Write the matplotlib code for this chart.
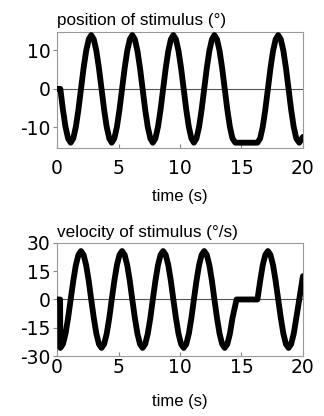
import matplotlib
matplotlib.use("Agg")
import matplotlib.pyplot as plt

plt.rcParams['font.family'] = ['Liberation Sans', 'DejaVu Sans']
plt.rcParams['axes.unicode_minus'] = False

# position of stimulus (deg)
pos_t = [0.00, 0.27,
         0.48, 0.69, 0.90, 1.11, 1.32, 1.53, 1.74, 1.95, 2.16, 2.37, 2.58, 2.78, 2.99, 3.20, 3.41, 3.62,
         3.83, 4.04, 4.25, 4.45, 4.66, 4.87, 5.08, 5.29, 5.50, 5.71, 5.92, 6.12, 6.33, 6.54, 6.75, 6.96,
         7.17, 7.38, 7.59, 7.79, 8.00, 8.21, 8.42, 8.63, 8.84, 9.05, 9.26, 9.46, 9.67, 9.88, 10.09, 10.30,
         10.51, 10.72, 10.93, 11.13, 11.34, 11.55, 11.76, 11.97, 12.18, 12.39, 12.60, 12.80, 13.01, 13.22, 13.43, 13.64,
         13.85, 14.06, 14.27, 14.50, 16.30,
         16.52, 16.73, 16.94, 17.15, 17.36, 17.57, 17.78, 17.99, 18.20, 18.41, 18.62, 18.83,
         19.04, 19.25, 19.46, 19.70, 20.00]
pos_deg = [0, 0,
           -5.4, -9.9, -12.9, -14, -12.9, -9.9, -5.4, 0, 5.4, 9.9, 12.9, 14, 12.9, 9.9, 5.4, 0,
           -5.4, -9.9, -12.9, -14, -12.9, -9.9, -5.4, 0, 5.4, 9.9, 12.9, 14, 12.9, 9.9, 5.4, 0,
           -5.4, -9.9, -12.9, -14, -12.9, -9.9, -5.4, 0, 5.4, 9.9, 12.9, 14, 12.9, 9.9, 5.4, 0,
           -5.4, -9.9, -12.9, -14, -12.9, -9.9, -5.4, 0, 5.4, 9.9, 12.9, 14, 12.9, 9.9, 5.4, 0,
           -5.4, -9.9, -12.9, -14, -14,
           -12.9, -9.9, -5.4, 0, 5.4, 9.9, 12.9, 14, 12.9, 9.9, 5.4, 0,
           -5.4, -9.9, -12.9, -14, -12.5]

# velocity of stimulus (deg/s)
vel_t = [0.00, 0.25, 0.27,
         0.48, 0.69, 0.90, 1.11, 1.32, 1.53, 1.74, 1.95, 2.16, 2.37, 2.58, 2.78, 2.99, 3.20, 3.41, 3.62,
         3.83, 4.04, 4.25, 4.45, 4.66, 4.87, 5.08, 5.29, 5.50, 5.71, 5.92, 6.12, 6.33, 6.54, 6.75, 6.96,
         7.17, 7.38, 7.59, 7.79, 8.00, 8.21, 8.42, 8.63, 8.84, 9.05, 9.26, 9.46, 9.67, 9.88, 10.09, 10.30,
         10.51, 10.72, 10.93, 11.13, 11.34, 11.55, 11.76, 11.97, 12.18, 12.39, 12.60, 12.80, 13.01, 13.22, 13.43, 13.64,
         13.85, 14.06, 14.27, 14.60, 16.30,
         16.52, 16.73, 16.94, 17.15, 17.36, 17.57, 17.78, 17.99, 18.20, 18.41, 18.62, 18.83,
         19.04, 19.25, 19.46, 19.70, 20.00]
vel_dps = [0, 0, -25.7,
           -23.7, -18.2, -9.8, 0, 9.8, 18.2, 23.7, 25.7, 23.7, 18.2, 9.8, 0, -9.8, -18.2, -23.7, -25.7,
           -23.7, -18.2, -9.8, 0, 9.8, 18.2, 23.7, 25.7, 23.7, 18.2, 9.8, 0, -9.8, -18.2, -23.7, -25.7,
           -23.7, -18.2, -9.8, 0, 9.8, 18.2, 23.7, 25.7, 23.7, 18.2, 9.8, 0, -9.8, -18.2, -23.7, -25.7,
           -23.7, -18.2, -9.8, 0, 9.8, 18.2, 23.7, 25.7, 23.7, 18.2, 9.8, 0, -9.8, -18.2, -23.7, -25.7,
           -23.7, -18.2, -9.8, 0, 0,
           9.8, 18.2, 23.7, 25.7, 23.7, 18.2, 9.8, 0, -9.8, -18.2, -23.7, -25.7,
           -23.7, -18.2, -9.8, 0, 12.4]

x_ticks = [0, 5, 10, 15, 20]
pos_ticks = [-10, 0, 10]
vel_ticks = [-30, -15, 0, 15, 30]


def draw_panel(ax, t, y, title, ylim, yticks, title_y, xpad, labelpad):
    ax.axhline(0, color='#555555', lw=0.8, zorder=1)
    ax.plot(t, y, color='black', lw=4.2, solid_joinstyle='round',
            solid_capstyle='round', zorder=3)
    ax.set_xlim(0, 20)
    ax.set_ylim(*ylim)
    ax.set_xticks(x_ticks)
    ax.set_yticks(yticks)
    for s in ax.spines.values():
        s.set_color('#999999')
        s.set_linewidth(0.8)
    ax.tick_params(axis='x', direction='in', length=3, color='#888888',
                   labelsize=13.5, pad=xpad)
    ax.tick_params(axis='y', direction='out', length=3, color='#888888',
                   labelsize=13.5, pad=1.5)
    # tick numbers in the reference are drawn wide, DejaVu is closer
    for lab in ax.get_xticklabels() + ax.get_yticklabels():
        lab.set_family('DejaVu Sans')
    ax.set_xlabel('time (s)', fontsize=12, labelpad=labelpad)
    ax.text(0, title_y, title, transform=ax.transAxes, fontsize=12.3,
            ha='left', va='baseline')


fig = plt.figure(figsize=(3.24, 4.16), dpi=100)
ax1 = fig.add_axes([0.176, 0.645, 0.759, 0.278])
ax2 = fig.add_axes([0.176, 0.1442, 0.759, 0.2718])

draw_panel(ax1, pos_t, pos_deg, 'position of stimulus (°)', (-15.3, 14.8), pos_ticks,
           1.06, 7.8, 8.1)
draw_panel(ax2, vel_t, vel_dps, 'velocity of stimulus (°/s)', (-30, 30), vel_ticks,
           1.056, 1.5, 12.5)

fig.savefig('out.png', dpi=100)
